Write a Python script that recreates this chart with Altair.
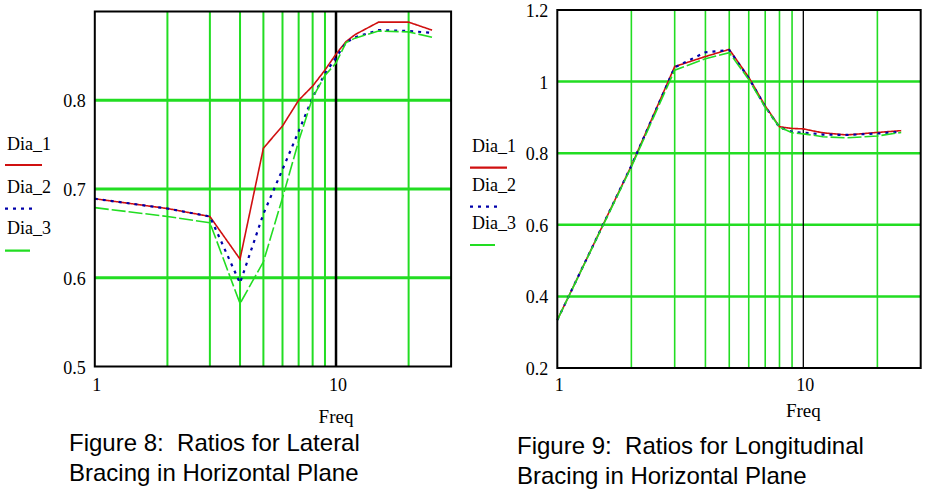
import altair as alt
import pandas as pd

# ---------------- data ----------------
series = ["Dia_1", "Dia_2", "Dia_3"]
freq = [1, 2, 3, 4, 5, 6, 7, 8, 9, 10, 11, 12, 15, 20, 25]

lat_dia1 = [0.689, 0.678, 0.669, 0.621, 0.746, 0.771, 0.800, 0.816, 0.834, 0.852, 0.866, 0.874, 0.888, 0.888, 0.879]
lat_dia2 = [0.689, 0.678, 0.669, 0.594, 0.672, 0.722, 0.765, 0.803, 0.830, 0.848, 0.865, 0.871, 0.879, 0.878, 0.876]
lat_dia3 = [0.679, 0.669, 0.662, 0.571, 0.618, 0.690, 0.754, 0.803, 0.828, 0.842, 0.865, 0.870, 0.878, 0.877, 0.871]

lon_dia1 = [0.334, 0.765, 1.042, 1.070, 1.090, 1.012, 0.932, 0.874, 0.869, 0.868, 0.862, 0.857, 0.851, 0.858, 0.863]
lon_dia2 = [0.334, 0.765, 1.040, 1.082, 1.088, 1.010, 0.930, 0.872, 0.860, 0.857, 0.855, 0.852, 0.851, 0.855, 0.860]
lon_dia3 = [0.334, 0.762, 1.032, 1.064, 1.081, 1.006, 0.928, 0.873, 0.857, 0.854, 0.850, 0.846, 0.843, 0.848, 0.858]

grid_freq = [2, 3, 4, 5, 6, 7, 8, 9, 20]
x_ticks = [1, 10]
lat_grid_y = [0.6, 0.7, 0.8]
lat_ticks_y = [0.5, 0.6, 0.7, 0.8]
lon_grid_y = [0.4, 0.6, 0.8, 1.0]
lon_ticks_y = [0.2, 0.4, 0.6, 0.8, 1.0, 1.2]

captions = {
    "lat": ["Figure 8:\u00a0 Ratios for Lateral", "Bracing in Horizontal Plane"],
    "lon": ["Figure 9:\u00a0 Ratios for Longitudinal", "Bracing in Horizontal Plane"],
}

# ---------------- styles ----------------
GREEN = "#22dd22"
RED = "#d01010"
BLUE = "#0000aa"
LINE_GREEN = "#22dd22"
SERIF = "Liberation Serif"
SANS = "Liberation Sans"
colors = [RED, BLUE, LINE_GREEN]
dashes = [[1, 0], [3, 5], [14, 3]]
widths = [1.6, 2.2, 1.6]

one = pd.DataFrame({"k": [0]})


def panel(values, ydom, yticks, ygrid, xr, yr, vgrid_w, hgrid_w, black_w,
          legend_x, legend_rows, freq_y, cap, cap_x, cap_y):
    xs = alt.Scale(type="log", domain=[1, 30], range=xr, nice=False)
    ys = alt.Scale(domain=ydom, range=yr, nice=False, zero=False)
    layers = []

    # vertical green gridlines
    layers.append(
        alt.Chart(pd.DataFrame({"f": grid_freq})).mark_rule(color=GREEN, strokeWidth=vgrid_w).encode(
            x=alt.X("f:Q", scale=xs, axis=None),
            y=alt.YDatum(ydom[0], type="quantitative", scale=ys, axis=None),
            y2=alt.Y2Datum(ydom[1]),
        )
    )
    # horizontal green gridlines
    layers.append(
        alt.Chart(pd.DataFrame({"v": ygrid})).mark_rule(color=GREEN, strokeWidth=hgrid_w).encode(
            y=alt.Y("v:Q", scale=ys, axis=None),
            x=alt.XDatum(1, type="quantitative", scale=xs, axis=None),
            x2=alt.X2Datum(30),
        )
    )
    # black line at 10
    layers.append(
        alt.Chart(one).mark_rule(color="black", strokeWidth=black_w).encode(
            x=alt.XDatum(10, type="quantitative", scale=xs, axis=None),
            y=alt.YDatum(ydom[0], type="quantitative", scale=ys, axis=None),
            y2=alt.Y2Datum(ydom[1]),
        )
    )
    # data lines
    for name, vals, c, d, w in zip(series, values, colors, dashes, widths):
        df = pd.DataFrame({"freq": freq, "ratio": vals})
        layers.append(
            alt.Chart(df).mark_line(color=c, strokeDash=d, strokeWidth=w).encode(
                x=alt.X("freq:Q", scale=xs, axis=None),
                y=alt.Y("ratio:Q", scale=ys, axis=None),
            )
        )
    # frame
    layers.append(
        alt.Chart(one).mark_rect(fillOpacity=0, stroke="black", strokeWidth=2).encode(
            x=alt.XDatum(1, type="quantitative", scale=xs, axis=None),
            x2=alt.X2Datum(30),
            y=alt.YDatum(ydom[0], type="quantitative", scale=ys, axis=None),
            y2=alt.Y2Datum(ydom[1]),
        )
    )
    # y tick labels
    layers.append(
        alt.Chart(pd.DataFrame({"v": yticks})).mark_text(
            align="right", baseline="middle", dy=2, font=SERIF, fontSize=18, color="black"
        ).encode(
            y=alt.Y("v:Q", scale=ys, axis=None),
            x=alt.value(xr[0] - 9),
            text=alt.Text("v:Q", format="~g"),
        )
    )
    # x tick labels
    layers.append(
        alt.Chart(pd.DataFrame({"f": x_ticks})).mark_text(
            align="center", baseline="alphabetic", dx=2, font=SERIF, fontSize=18, color="black"
        ).encode(
            x=alt.X("f:Q", scale=xs, axis=None),
            y=alt.value(391),
            text=alt.Text("f:Q", format="~g"),
        )
    )
    # axis title
    layers.append(
        alt.Chart(one).mark_text(
            align="center", baseline="alphabetic", font=SERIF, fontSize=19, color="black", text="Freq"
        ).encode(
            x=alt.XDatum(10, type="quantitative", scale=xs, axis=None),
            y=alt.value(freq_y),
        )
    )
    # legend
    for (name, c, d, ty, ly, llen) in zip(series, colors, [[1, 0], [3, 5], [1, 0]], *zip(*legend_rows)):
        layers.append(
            alt.Chart(one).mark_text(
                align="left", baseline="alphabetic", font=SERIF, fontSize=18, color="black", text=name
            ).encode(x=alt.value(legend_x + 2), y=alt.value(ty))
        )
        layers.append(
            alt.Chart(one).mark_rule(color=c, strokeDash=d, strokeWidth=2.2).encode(
                x=alt.value(legend_x), x2=alt.value(legend_x + llen),
                y=alt.value(ly),
            )
        )
    # caption
    for i, line in enumerate(cap):
        layers.append(
            alt.Chart(one).mark_text(
                align="left", baseline="alphabetic", font=SANS, fontSize=24, color="black", text=line
            ).encode(x=alt.value(cap_x), y=alt.value(cap_y[i]))
        )
    return alt.layer(*layers)


left = panel(
    [lat_dia1, lat_dia2, lat_dia3], [0.5, 0.9], lat_ticks_y, lat_grid_y,
    [94.8, 451.1], [366.5, 11.5], 2, 3, 2.5,
    5, [(150, 165, 37), (192.7, 208.7, 32), (234.3, 250.7, 25)],
    423, captions["lat"], 69, [451, 481],
)
right = panel(
    [lon_dia1, lon_dia2, lon_dia3], [0.2, 1.2], lon_ticks_y, lon_grid_y,
    [557.3, 920.7], [368, 10], 1.6, 2.5, 1.3,
    470, [(151.7, 167.7, 37), (191, 206.7, 30), (229.3, 245, 25)],
    417, captions["lon"], 517, [454, 484],
)

chart = alt.layer(left, right).resolve_scale(x="independent", y="independent").properties(
    width=928, height=490, padding=0, autosize="none"
).configure_view(stroke=None)

chart.save("out.html", embed_options={"renderer": "svg", "actions": False})
